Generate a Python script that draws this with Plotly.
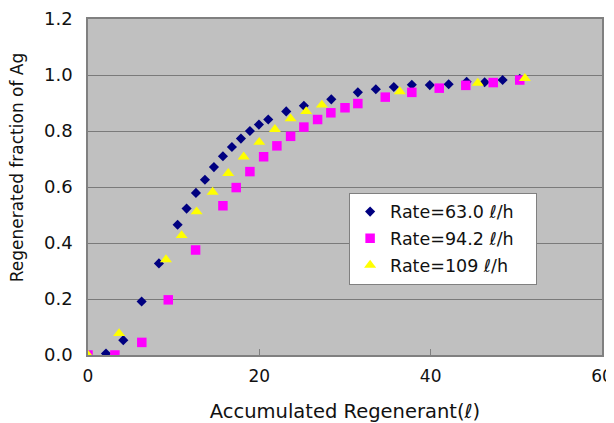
import plotly.graph_objects as go

# Series: Rate=63.0 l/h (navy diamonds)
x_630 = [2.1, 4.12, 6.26, 8.28, 10.46, 11.51, 12.60, 13.65, 14.70, 15.75, 16.80, 17.85,
         18.90, 19.95, 21.04, 23.14, 25.2, 28.4, 31.5, 33.6, 35.7, 37.8, 39.9, 42.1,
         44.2, 46.3, 48.4, 50.4]
y_630 = [0.005, 0.053, 0.191, 0.327, 0.465, 0.523, 0.579, 0.626, 0.671, 0.710, 0.743, 0.773,
         0.800, 0.823, 0.841, 0.870, 0.890, 0.913, 0.938, 0.949, 0.957, 0.965, 0.964, 0.967,
         0.976, 0.974, 0.982, 0.986]

# Series: Rate=94.2 l/h (magenta squares)
x_942 = [0.0, 3.14, 6.28, 9.37, 12.56, 15.75, 17.3, 18.9, 20.5, 22.05, 23.65, 25.2,
         26.8, 28.35, 30.0, 31.5, 34.7, 37.8, 41.0, 44.1, 47.3, 50.4]
y_942 = [0.0, 0.0, 0.045, 0.197, 0.375, 0.533, 0.598, 0.655, 0.708, 0.747, 0.781, 0.814,
         0.841, 0.865, 0.883, 0.898, 0.921, 0.938, 0.953, 0.963, 0.973, 0.982]

# Series: Rate=109 l/h (yellow triangles)
x_109 = [0.0, 3.63, 9.1, 10.93, 12.68, 14.55, 16.37, 18.17, 19.99, 21.82, 23.65, 25.47,
         27.3, 36.4, 45.5, 51.0]
y_109 = [0.0, 0.077, 0.341, 0.427, 0.512, 0.582, 0.649, 0.708, 0.760, 0.806, 0.844, 0.870,
         0.893, 0.941, 0.971, 0.988]

names = ["Rate=63.0 \u2113/h", "Rate=94.2 \u2113/h", "Rate=109 \u2113/h"]
x_ticks = [0, 20, 40, 60]
y_ticks = [0.0, 0.2, 0.4, 0.6, 0.8, 1.0, 1.2]
x_title = "Accumulated Regenerant(\u2113)"
y_title = "Regenerated fraction of Ag"

FONT = "DejaVu Sans, sans-serif"
TXT = "#111111"
PAD = "\u00a0\u00a0\u00a0"

fig = go.Figure()
fig.add_trace(go.Scatter(x=x_630, y=y_630, mode="markers", name=names[0] + PAD, legendgroup="a",
                         marker=dict(symbol="diamond", size=7.8, color="#000080")))
fig.add_trace(go.Scatter(x=x_942, y=y_942, mode="markers", name=names[1] + PAD, legendgroup="b",
                         marker=dict(symbol="square", size=9.5, color="#FF00FF")))
fig.add_trace(go.Scatter(x=x_109, y=y_109, mode="markers", name=names[2] + PAD, legendgroup="c",
                         marker=dict(symbol="triangle-up", size=10.5, color="#FFFF00")))

fig.update_layout(
    width=606, height=415,
    margin=dict(l=80, r=12, t=11, b=68),
    paper_bgcolor="white",
    plot_bgcolor="#C0C0C0",
    font=dict(family=FONT, size=17, color=TXT),
    showlegend=True,
    legend=dict(x=0.508, y=0.483, xanchor="left", yanchor="top",
                bgcolor="white", bordercolor="#808080", borderwidth=1,
                font=dict(family=FONT, size=17.5, color=TXT),
                tracegroupgap=1),
    annotations=[dict(text=y_title, textangle=-90, xref="paper", yref="paper",
                      x=0, y=0.557, xanchor="center", yanchor="middle", xshift=-71.5,
                      showarrow=False, font=dict(family=FONT, size=17, color=TXT))],
)
fig.update_xaxes(range=[0, 60], tickvals=x_ticks, ticktext=[str(v) for v in x_ticks],
                 showgrid=False, zeroline=False, automargin=False,
                 showline=True, linecolor="#808080", linewidth=1.5, mirror=True,
                 ticks="inside", ticklen=6, tickcolor="#808080", ticklabelstandoff=5,
                 ticklabeloverflow="allow", tickfont=dict(size=17),
                 title=dict(text=x_title, standoff=22, font=dict(family=FONT, size=19.5)))
fig.update_yaxes(range=[0, 1.2], tickvals=y_ticks, ticktext=[f"{v:.1f}" for v in y_ticks],
                 showgrid=True, gridcolor="#7A7A7A", gridwidth=1, zeroline=False, automargin=False,
                 showline=True, linecolor="#808080", linewidth=1.5, mirror=True,
                 ticks="", ticklabelstandoff=10, ticklabeloverflow="allow",
                 tickfont=dict(size=18))

fig.write_html("out.html")
